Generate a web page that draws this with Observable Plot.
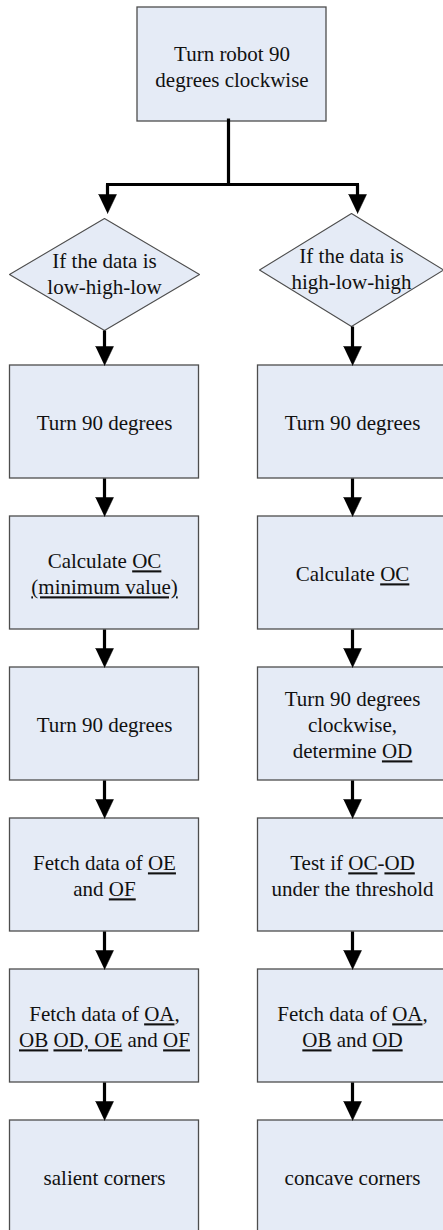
<!DOCTYPE html>
<html>
<head>
<meta charset="utf-8">
<script src="https://cdn.jsdelivr.net/npm/d3@7"></script>
<script src="https://cdn.jsdelivr.net/npm/@observablehq/plot@0.6"></script>
<style>
  html, body { margin: 0; padding: 0; background: #fff; }
  #chart svg { display: block; }
</style>
</head>
<body>
<div id="chart"></div>
<script>
// ---- content (underlined parts are wrapped in _..._) ----
const topLabel = "Turn robot 90\ndegrees clockwise";
const conditions = ["If the data is\nlow-high-low", "If the data is\nhigh-low-high"];
const leftSteps = [
  "Turn 90 degrees",
  "Calculate _OC_\n_(minimum value)_",
  "Turn 90 degrees",
  "Fetch data of _OE_\nand _OF_",
  "Fetch data of _OA_,\n_OB_ _OD, OE_ and _OF_",
  "salient corners"
];
const rightSteps = [
  "Turn 90 degrees",
  "Calculate _OC_",
  "Turn 90 degrees\nclockwise,\ndetermine _OD_",
  "Test if _OC_-_OD_\nunder the threshold",
  "Fetch data of _OA_,\n_OB_ and _OD_",
  "concave corners"
];
const columns = [leftSteps, rightSteps];

// ---- layout ----
const W = 443, H = 1230;
const colX = [104, 352];
const boxHalfW = 94.5, boxH = 113;
const rowTop0 = 365, rowStep = 151;
const topBox = {x1: 137, x2: 326, y1: 7, y2: 121, cx: 231.5, label: topLabel};
const diamonds = [
  {cx: 104, cy: 274, hw: 95, hh: 56},
  {cx: 351, cy: 269.5, hw: 92, hh: 56.5}
];
const stemX = 228, barY = 184, branchX = [107, 357], branchTip = 213;
const headH = 19, headHalf = 9;

const boxes = [{...topBox}];
const texts = [{x: topBox.cx, y: (topBox.y1 + topBox.y2) / 2 + 1, label: topBox.label}];
columns.forEach((steps, c) => {
  steps.forEach((label, r) => {
    const y1 = rowTop0 + r * rowStep;
    boxes.push({x1: colX[c] - boxHalfW, x2: colX[c] + boxHalfW, y1, y2: y1 + boxH});
    texts.push({x: colX[c], y: y1 + boxH / 2, label});
  });
});

const diamondPts = [];
diamonds.forEach((d, i) => {
  const pts = [[d.cx, d.cy - d.hh], [d.cx + d.hw, d.cy], [d.cx, d.cy + d.hh], [d.cx - d.hw, d.cy], [d.cx, d.cy - d.hh]];
  pts.forEach(([x, y]) => diamondPts.push({x, y, z: i}));
  texts.push({x: d.cx, y: d.cy - 2, label: conditions[i]});
});

// arrows: {x, y1 (start), y2 (tip)}
const arrows = [];
branchX.forEach(x => arrows.push({x, y1: barY, y2: branchTip}));
columns.forEach((steps, c) => {
  const d = diamonds[c];
  arrows.push({x: colX[c], y1: d.cy + d.hh, y2: rowTop0});
  for (let r = 0; r < steps.length - 1; r++) {
    arrows.push({x: colX[c], y1: rowTop0 + r * rowStep + boxH, y2: rowTop0 + (r + 1) * rowStep});
  }
});
const segments = [
  {x1: stemX, y1: topBox.y2 - 3, x2: stemX, y2: barY},
  {x1: branchX[0] - 1.5, y1: barY, x2: branchX[1] + 1.5, y2: barY},
  ...arrows.map(a => ({x1: a.x, y1: a.y1, x2: a.x, y2: a.y2 - headH + 2}))
];
const heads = [];
arrows.forEach((a, i) => {
  heads.push({x: a.x - headHalf, y: a.y2 - headH, z: i});
  heads.push({x: a.x + headHalf, y: a.y2 - headH, z: i});
  heads.push({x: a.x, y: a.y2, z: i});
});

const fillC = "#E5EBF6", strokeC = "#4d4d4d";
const serif = "Liberation Serif";

const svg = Plot.plot({
  width: W, height: H,
  margin: 0,
  x: {domain: [0, W], range: [0, W], axis: null},
  y: {domain: [0, H], range: [0, H], axis: null},
  marks: [
    Plot.rect(boxes, {x1: "x1", x2: "x2", y1: "y1", y2: "y2", fill: fillC, stroke: strokeC, strokeWidth: 1.3}),
    Plot.line(diamondPts, {x: "x", y: "y", z: "z", fill: fillC, stroke: strokeC, strokeWidth: 1.1, curve: "linear"}),
    Plot.link(segments, {x1: "x1", y1: "y1", x2: "x2", y2: "y2", stroke: "black", strokeWidth: 3.2}),
    Plot.line(heads, {x: "x", y: "y", z: "z", fill: "black", stroke: "black", strokeWidth: 0.5}),
    Plot.text(texts, {x: "x", y: "y", text: "label", fontSize: 21, fontFamily: serif, lineHeight: 1.24, fill: "#111", textAnchor: "middle"})
  ]
});

// make sure every label uses the serif face
svg.querySelectorAll("text").forEach(t => {
  t.setAttribute("font-family", serif);
  t.style.fontFamily = "'Liberation Serif', 'Times New Roman', serif";
});

// underline the parts marked with _..._
(function underline(root) {
  const walker = document.createTreeWalker(root, NodeFilter.SHOW_TEXT);
  const found = [];
  while (walker.nextNode()) if (walker.currentNode.data.includes("_")) found.push(walker.currentNode);
  for (const n of found) {
    const frag = document.createDocumentFragment();
    n.data.split("_").forEach((p, i) => {
      if (!p) return;
      const t = document.createElementNS("http://www.w3.org/2000/svg", "tspan");
      t.textContent = p;
      if (i % 2) t.setAttribute("text-decoration", "underline");
      frag.appendChild(t);
    });
    n.parentNode.replaceChild(frag, n);
  }
})(svg);

document.getElementById("chart").appendChild(svg);
</script>
</body>
</html>
